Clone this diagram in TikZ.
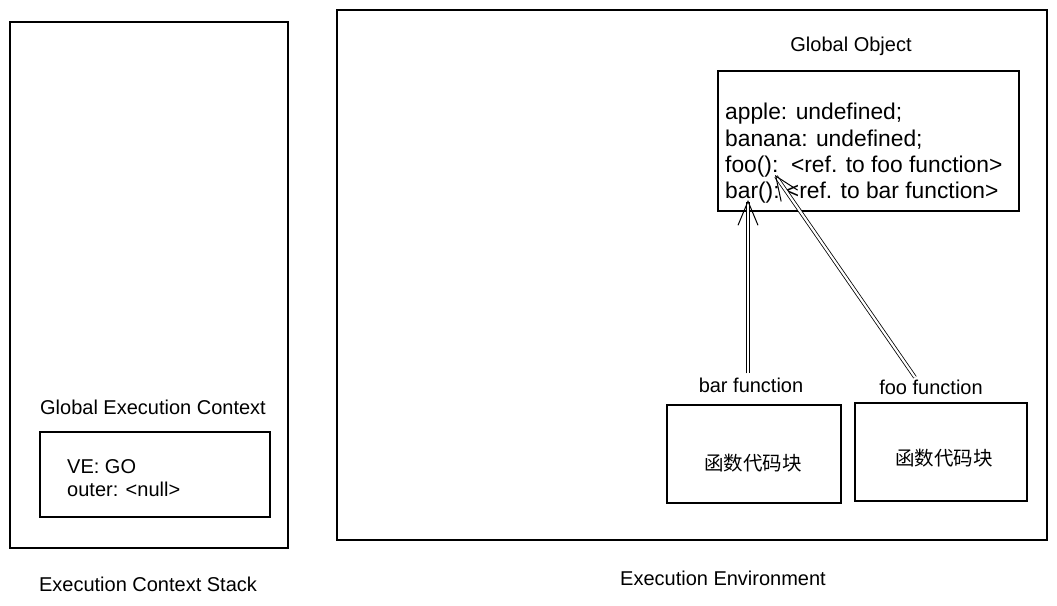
\documentclass[tikz,border=0pt]{standalone}
\usepackage{fontspec}
\setmainfont{Liberation Sans}
\newfontfamily\cjk{Noto Sans CJK SC}
\usetikzlibrary{arrows.meta}
\begin{document}
\begin{tikzpicture}[x=1pt,y=-1pt,
  frame/.style={draw, line width=1.2pt, inner sep=0pt, outer sep=0pt, anchor=north west},
  lbl/.style={font=\fontsize{20}{23}\selectfont, inner sep=0pt, anchor=base},
  big/.style={font=\fontsize{22.8}{26.3}\selectfont, inner sep=0pt, align=left, anchor=north west},
  cjklbl/.style={font=\cjk\fontsize{19.5}{22}\selectfont, inner sep=0pt},
  link/.style={draw, double, double distance=2.2pt, line width=0.8pt,
    -{Straight Barb[length=24pt,width=20pt,line width=1pt]}}]
\useasboundingbox (0,0) rectangle (1057,605);
% left: execution context stack
\node[frame, minimum width=278pt, minimum height=526pt] (stack) at (10,22) {};
\node[lbl] (gectitle) at (153,414) {Global Execution Context};
\node[frame, minimum width=230pt, minimum height=85pt] (gec) at (40,432) {};
\node[big, font=\fontsize{20}{23}\selectfont] (gectext) at (67,459) {VE: GO\\outer: <null>};
\node[lbl] (stacklbl) at (148,591) {Execution Context Stack};
% right: execution environment
\node[frame, minimum width=710pt, minimum height=530pt] (env) at (337,10) {};
\node[lbl] (envlbl) at (723,585) {Execution Environment};
\node[lbl] (golbl) at (851,51) {Global Object};
\node[frame, minimum width=301pt, minimum height=140pt] (go) at (718,71) {};
\node[big] (gotext) at (725,103) {apple: undefined;\\banana: undefined;\\foo():\ \ <ref. to foo function>\\bar():\ <ref. to bar function>};
\node[lbl] (barlbl) at (751,392) {bar function};
\node[frame, minimum width=174pt, minimum height=98pt] (barbox) at (667,405) {};
\node[cjklbl] (barcode) at (753,463) {函数代码块};
\node[lbl] (foolbl) at (931,394) {foo function};
\node[frame, minimum width=172pt, minimum height=98pt] (foobox) at (855,403) {};
\node[cjklbl] (foocode) at (944,458) {函数代码块};
% connectors
\coordinate (bartip) at (748,200);
\coordinate (footip) at (775,175);
\draw[link] ([xshift=-3pt]barlbl.north) ++(0,-4) -- (bartip);
\draw[link] ([xshift=-16pt]foolbl.north) ++(0,-2) -- (footip);
\end{tikzpicture}
\end{document}
